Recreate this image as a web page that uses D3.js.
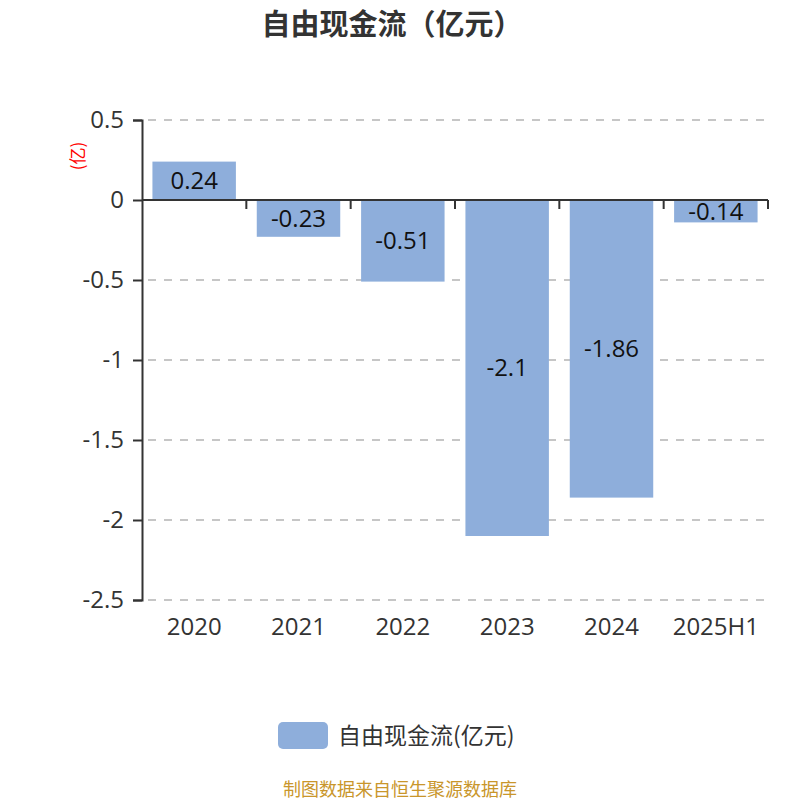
<!DOCTYPE html>
<html>
<head>
<meta charset="utf-8">
<script src="https://cdn.jsdelivr.net/npm/d3@7"></script>
<style>
  body { margin: 0; background: #fff; }
  #chart { width: 800px; height: 800px; }
  text { font-family: "Open Sans", "Noto Sans CJK SC", sans-serif; }
</style>
</head>
<body>
<div id="chart"></div>
<script>
// data
const categories = ["2020", "2021", "2022", "2023", "2024", "2025H1"];
const values = [0.24, -0.23, -0.51, -2.1, -1.86, -0.14];
const yTicks = [0.5, 0, -0.5, -1, -1.5, -2, -2.5];
const seriesName = "自由现金流(亿元)";

const width = 800, height = 800;
const margin = { top: 120, right: 32, bottom: 200, left: 142 };

const svg = d3.select("#chart")
  .append("svg")
  .attr("width", width)
  .attr("height", height);

// title
svg.append("text")
  .attr("x", 392)
  .attr("y", 35)
  .attr("text-anchor", "middle")
  .attr("font-size", 29)
  .attr("font-weight", "bold")
  .attr("fill", "#333")
  .style("font-family", "'Noto Sans CJK SC', sans-serif")
  .text("自由现金流（亿元）");

const xScale = d3.scaleBand()
  .domain(categories)
  .range([margin.left, width - margin.right])
  .paddingInner(0.2)
  .paddingOuter(0.1);

const xBand = d3.scaleBand()
  .domain(categories)
  .range([margin.left, width - margin.right]);

const yScale = d3.scaleLinear()
  .domain([-2.5, 0.5])
  .range([height - margin.bottom, margin.top]);

// grid lines
svg.append("g")
  .selectAll("line")
  .data(yTicks.filter(d => d !== 0))
  .join("line")
  .attr("x1", margin.left + 6)
  .attr("x2", width - margin.right)
  .attr("y1", d => yScale(d))
  .attr("y2", d => yScale(d))
  .attr("stroke", "#c6c6c6")
  .attr("stroke-width", 2)
  .attr("stroke-dasharray", "8,8");

// bars
svg.append("g")
  .selectAll("rect")
  .data(values)
  .join("rect")
  .attr("x", (d, i) => xScale(categories[i]))
  .attr("y", d => yScale(Math.max(0, d)))
  .attr("width", xScale.bandwidth())
  .attr("height", d => Math.abs(yScale(d) - yScale(0)))
  .attr("fill", "#8eaedb");

// y axis
const yAxis = svg.append("g")
  .attr("transform", `translate(${margin.left},0)`)
  .call(d3.axisLeft(yScale).tickValues(yTicks).tickSize(9).tickPadding(9).tickFormat(d3.format("")));
yAxis.select(".domain").attr("stroke", "#333").attr("stroke-width", 2);
yAxis.selectAll(".tick line").attr("stroke", "#333").attr("stroke-width", 2);
yAxis.selectAll("text")
  .attr("font-size", 24)
  .attr("fill", "#333")
  .text(d => d === 0 ? "0" : String(d));

// unit label
svg.append("text")
  .attr("transform", `translate(84,156) rotate(-90)`)
  .attr("text-anchor", "middle")
  .attr("font-size", 17)
  .attr("fill", "red")
  .style("font-family", "'Noto Sans CJK SC', sans-serif")
  .text("(亿)");

// x axis line at zero with downward ticks at band edges
const x0 = yScale(0);
svg.append("line")
  .attr("x1", margin.left)
  .attr("x2", width - margin.right)
  .attr("y1", x0)
  .attr("y2", x0)
  .attr("stroke", "#333")
  .attr("stroke-width", 2);

svg.append("g")
  .selectAll("line")
  .data(categories)
  .join("line")
  .attr("x1", d => xBand(d) + xBand.bandwidth())
  .attr("x2", d => xBand(d) + xBand.bandwidth())
  .attr("y1", x0)
  .attr("y2", x0 + 9)
  .attr("stroke", "#333")
  .attr("stroke-width", 2);

// category labels at bottom
svg.append("g")
  .selectAll("text")
  .data(categories)
  .join("text")
  .attr("x", d => xBand(d) + xBand.bandwidth() / 2)
  .attr("y", height - margin.bottom + 35)
  .attr("text-anchor", "middle")
  .attr("font-size", 24)
  .attr("fill", "#333")
  .text(d => d);

// value labels
svg.append("g")
  .selectAll("text")
  .data(values)
  .join("text")
  .attr("x", (d, i) => xScale(categories[i]) + xScale.bandwidth() / 2)
  .attr("y", d => (yScale(d) + yScale(0)) / 2)
  .attr("dy", "0.35em")
  .attr("text-anchor", "middle")
  .attr("font-size", 24)
  .attr("fill", "#111")
  .text(d => String(d));

// legend
svg.append("rect")
  .attr("x", 278)
  .attr("y", 722)
  .attr("width", 50)
  .attr("height", 27)
  .attr("rx", 5)
  .attr("fill", "#8eaedb");

svg.append("text")
  .attr("x", 338)
  .attr("y", 736)
  .attr("dy", "0.35em")
  .attr("font-size", 23)
  .attr("fill", "#333")
  .style("font-family", "'Noto Sans CJK SC', sans-serif")
  .text(seriesName);

// source
svg.append("text")
  .attr("x", 400)
  .attr("y", 796)
  .attr("text-anchor", "middle")
  .attr("font-size", 18)
  .attr("fill", "#c9962b")
  .style("font-family", "'Noto Sans CJK SC', sans-serif")
  .text("制图数据来自恒生聚源数据库");
</script>
</body>
</html>
